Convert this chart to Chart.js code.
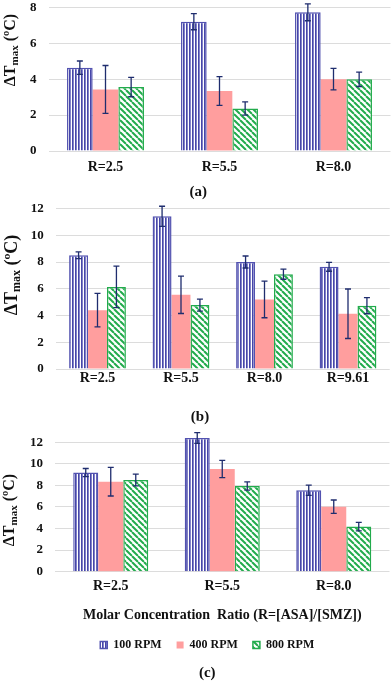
<!DOCTYPE html>
<html>
<head>
<meta charset="utf-8">
<script src="https://cdn.jsdelivr.net/npm/chart.js@4.4.1/dist/chart.umd.min.js"></script>
<style>
  body { margin: 0; background: #fff; }
  #wrap { position: relative; width: 392px; height: 682px; }
  canvas { position: absolute; left: 0; }
</style>
</head>
<body>
<div id="wrap">
  <canvas id="chartA" width="392" height="201" style="top:0"></canvas>
  <canvas id="chartB" width="392" height="229" style="top:201px"></canvas>
  <canvas id="chartC" width="392" height="252" style="top:430px"></canvas>
</div>
<script>
// panel (a)
const catsA = ["R=2.5", "R=5.5", "R=8.0"];
const a100 = [4.64, 7.2, 7.72];
const a100Err = [0.37, 0.45, 0.47];
const a400 = [3.43, 3.34, 4.0];
const a400Err = [1.33, 0.8, 0.6];
const a800 = [3.56, 2.37, 3.99];
const a800Err = [0.54, 0.37, 0.4];

// panel (b)
const catsB = ["R=2.5", "R=5.5", "R=8.0", "R=9.61"];
const b100 = [8.5, 11.42, 8.0, 7.64];
const b100Err = [0.25, 0.75, 0.45, 0.33];
const b400 = [4.4, 5.55, 5.2, 4.13];
const b400Err = [1.25, 1.4, 1.37, 1.85];
const b800 = [6.14, 4.78, 7.09, 4.73];
const b800Err = [1.55, 0.45, 0.38, 0.6];

// panel (c)
const catsC = ["R=2.5", "R=5.5", "R=8.0"];
const c100 = [9.19, 12.4, 7.55];
const c100Err = [0.38, 0.5, 0.48];
const c400 = [8.35, 9.53, 6.03];
const c400Err = [1.33, 0.8, 0.62];
const c800 = [8.5, 7.95, 4.18];
const c800Err = [0.54, 0.38, 0.39];

const seriesNames = ["100 RPM", "400 RPM", "800 RPM"];

Chart.defaults.font.family = '"Liberation Serif", "Times New Roman", serif';
Chart.defaults.font.weight = "bold";
Chart.defaults.color = "#111";

const BLUE = "#5252b0";
const PINK = "#ff9e9e";
const GREEN = "#22ab4c";

function stripePattern() {
  const c = document.createElement("canvas");
  c.width = 3; c.height = 4;
  const g = c.getContext("2d");
  g.fillStyle = "#fff"; g.fillRect(0, 0, 3, 4);
  g.fillStyle = "#4646a8"; g.fillRect(0, 0, 1, 4);
  g.fillStyle = "#8282c8"; g.fillRect(1, 0, 1, 4);
  return g.createPattern(c, "repeat");
}

function diagPattern() {
  const s = 6;
  const c = document.createElement("canvas");
  c.width = s; c.height = s;
  const g = c.getContext("2d");
  g.fillStyle = "#fff"; g.fillRect(0, 0, s, s);
  g.strokeStyle = GREEN; g.lineWidth = 2;
  for (const x0 of [-s, 0, s]) {
    g.beginPath(); g.moveTo(x0, 0); g.lineTo(x0 + s, s); g.stroke();
  }
  return g.createPattern(c, "repeat");
}

const blueFill = stripePattern();
const greenFill = diagPattern();

function makeSets(v100, e100, v400, e400, v800, e800) {
  return [
    { label: seriesNames[0], data: v100, errors: e100, backgroundColor: blueFill, borderColor: BLUE, borderWidth: 1.5 },
    { label: seriesNames[1], data: v400, errors: e400, backgroundColor: PINK, borderColor: PINK, borderWidth: 0 },
    { label: seriesNames[2], data: v800, errors: e800, backgroundColor: greenFill, borderColor: GREEN, borderWidth: 1.5 }
  ];
}

// error bars drawn through the y scale
const errorBars = {
  id: "errorBars",
  afterDatasetsDraw(chart) {
    const ctx = chart.ctx;
    const y = chart.scales.y;
    ctx.save();
    ctx.strokeStyle = "#1f2d6e";
    ctx.lineWidth = 1.3;
    chart.data.datasets.forEach((ds, i) => {
      const meta = chart.getDatasetMeta(i);
      meta.data.forEach((bar, j) => {
        const v = ds.data[j];
        const e = ds.errors[j];
        const top = y.getPixelForValue(v + e);
        const bot = y.getPixelForValue(v - e);
        ctx.beginPath();
        ctx.moveTo(bar.x, top); ctx.lineTo(bar.x, bot);
        ctx.moveTo(bar.x - 3, top); ctx.lineTo(bar.x + 3, top);
        ctx.moveTo(bar.x - 3, bot); ctx.lineTo(bar.x + 3, bot);
        ctx.stroke();
      });
    });
    ctx.restore();
  }
};

// rotated "ΔTmax (ºC)" with subscript
const yTitle = {
  id: "yTitle",
  afterDraw(chart, args, opts) {
    const ctx = chart.ctx;
    ctx.save();
    ctx.translate(opts.x, opts.y);
    ctx.rotate(-Math.PI / 2);
    ctx.fillStyle = "#111";
    const big = "bold " + opts.size + 'px "Liberation Serif", serif';
    const small = "bold " + opts.sub + 'px "Liberation Serif", serif';
    ctx.font = big; const w1 = ctx.measureText("ΔT").width;
    ctx.font = small; const w2 = ctx.measureText("max").width;
    ctx.font = big; const w3 = ctx.measureText(" (ºC)").width;
    let x = -(w1 + w2 + w3) / 2;
    const base = opts.size * 0.33;
    ctx.textBaseline = "alphabetic";
    ctx.font = big; ctx.fillText("ΔT", x, base); x += w1;
    ctx.font = small; ctx.fillText("max", x, base + 3); x += w2;
    ctx.font = big; ctx.fillText(" (ºC)", x, base);
    ctx.restore();
  }
};

function buildChart(id, cats, sets, cfg) {
  return new Chart(document.getElementById(id), {
    type: "bar",
    data: { labels: cats, datasets: sets },
    options: {
      responsive: false,
      animation: false,
      layout: { padding: cfg.padding },
      datasets: { bar: { categoryPercentage: cfg.catPct, barPercentage: 1 } },
      scales: {
        x: {
          grid: { display: false, drawTicks: false },
          border: { display: false },
          ticks: { padding: cfg.xTickPad, font: { size: 14, weight: "bold" }, color: "#111" },
          title: cfg.xTitle || { display: false },
          afterFit(s) { s.height = cfg.xHeight; }
        },
        y: {
          min: 0,
          max: cfg.yMax,
          ticks: { stepSize: 2, padding: 0, includeBounds: false, font: { size: 13, weight: "bold", lineHeight: 1 }, color: "#111" },
          grid: { color: "#dcdcdc", lineWidth: 1, drawTicks: true, tickLength: 12, tickColor: "rgba(0,0,0,0)" },
          border: { display: false },
          afterFit(s) { s.width = cfg.yWidth; }
        }
      },
      plugins: {
        legend: cfg.legend || { display: false },
        title: {
          display: true,
          text: cfg.caption,
          position: "bottom",
          color: "#111",
          font: { size: 15, weight: "bold" },
          padding: cfg.captionPad
        },
        tooltip: { enabled: false },
        yTitle: cfg.yTitlePos
      }
    },
    plugins: [errorBars, yTitle]
  });
}

buildChart("chartA", catsA, makeSets(a100, a100Err, a400, a400Err, a800, a800Err), {
  padding: { left: 6, right: 1.5, top: 7.3, bottom: 0 },
  catPct: 0.675, yMax: 8, yWidth: 42.5, xHeight: 32, xTickPad: 8,
  caption: "(a)", captionPad: { top: 0, bottom: 0 },
  yTitlePos: { x: 10, y: 50, size: 16, sub: 11 }
});

buildChart("chartB", catsB, makeSets(b100, b100Err, b400, b400Err, b800, b800Err), {
  padding: { left: 10.25, right: 2.25, top: 7.5, bottom: 0 },
  catPct: 0.68, yMax: 12, yWidth: 45.5, xHeight: 38.7, xTickPad: 1,
  caption: "(b)", captionPad: { top: 0, bottom: 4.3 },
  yTitlePos: { x: 11, y: 74, size: 18, sub: 12 }
});

buildChart("chartC", catsC, makeSets(c100, c100Err, c400, c400Err, c800, c800Err), {
  padding: { left: 25, right: 2.5, top: 6.9, bottom: 0 },
  catPct: 0.673, yMax: 12.5, yWidth: 30, xHeight: 52.3, xTickPad: 6,
  xTitle: {
    display: true,
    text: "Molar Concentration  Ratio (R=[ASA]/[SMZ])",
    color: "#111",
    font: { size: 14, weight: "bold" },
    padding: { top: 0.6, bottom: 0 }
  },
  legend: {
    display: true,
    position: "bottom",
    labels: { boxWidth: 7, boxHeight: 7, padding: 15, color: "#111", font: { size: 12, weight: "bold" } }
  },
  caption: "(c)", captionPad: { top: 3, bottom: 0 },
  yTitlePos: { x: 9, y: 80, size: 16, sub: 11 }
});
</script>
</body>
</html>
